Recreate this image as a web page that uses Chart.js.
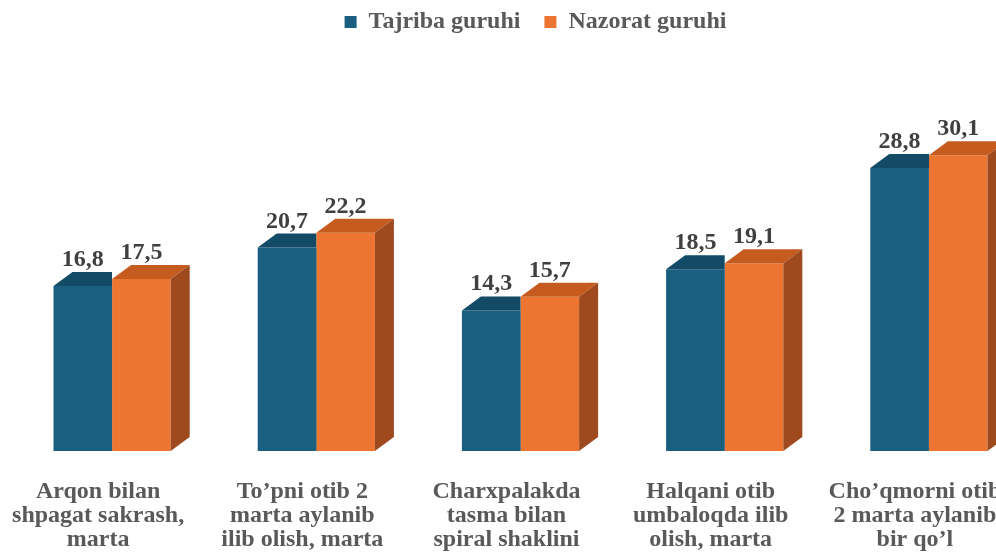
<!DOCTYPE html>
<html><head><meta charset="utf-8">
<script src="https://cdn.jsdelivr.net/npm/chart.js@4/dist/chart.umd.min.js"></script>
<style>html,body{margin:0;padding:0;overflow:hidden;background:#fff;width:996px;height:555px}
#wrap{position:absolute;left:0;top:0;}</style></head>
<body><div id="wrap"><canvas id="c" width="1061" height="600"></canvas></div>
<script>
const categories = [
  ["Arqon bilan", "shpagat sakrash,", "marta"],
  ["To’pni otib 2", "marta aylanib", "ilib olish, marta"],
  ["Charxpalakda", "tasma bilan", "spiral shaklini"],
  ["Halqani otib", "umbaloqda ilib", "olish, marta"],
  ["Cho’qmorni otib", "2 marta aylanib", "bir qo’l"]
];
const seriesNames = ["Tajriba guruhi", "Nazorat guruhi"];
const tajriba = [16.8, 20.7, 14.3, 18.5, 28.8];
const nazorat = [17.5, 22.2, 15.7, 19.1, 30.1];
const yMin = 0, yMax = 35;

const FONT = '"Liberation Serif", "Times New Roman", serif';
const DX = 19, DY = 14;
const frontCols = ['#1a5e80', '#ed7532'];
const topCols = ['#134a66', '#c65b20'];
const sideCols = ['#10405a', '#9e4a1e'];

const legendFit = {
  id: 'legendFit',
  afterInit(chart) {
    const lg = chart.legend; if (!lg) return;
    const f = lg.fit;
    lg.fit = function () { f.call(this); this.height = 121; };
  }
};

const bar3d = {
  id: 'bar3d',
  afterDatasetDraw(chart, args) {
    const ctx = chart.ctx, i = args.index, meta = args.meta;
    meta.data.forEach(el => {
      const p = el.getProps(['x', 'y', 'base', 'width'], true);
      const l = p.x - p.width / 2, r = p.x + p.width / 2, y = p.y, b = p.base;
      ctx.save();
      if (i === 0) { ctx.beginPath(); ctx.rect(0, 0, r, chart.height); ctx.clip(); }
      ctx.fillStyle = topCols[i];
      ctx.beginPath();
      ctx.moveTo(l, y); ctx.lineTo(r, y); ctx.lineTo(r + DX, y - DY); ctx.lineTo(l + DX, y - DY);
      ctx.closePath(); ctx.fill();
      ctx.fillStyle = sideCols[i];
      ctx.beginPath();
      ctx.moveTo(r, y); ctx.lineTo(r + DX, y - DY); ctx.lineTo(r + DX, b - DY); ctx.lineTo(r, b);
      ctx.closePath(); ctx.fill();
      ctx.restore();
    });
  }
};

const valueLabels = {
  id: 'valueLabels',
  afterDatasetsDraw(chart) {
    const ctx = chart.ctx;
    ctx.save();
    ctx.font = 'bold 24px ' + FONT;
    ctx.fillStyle = '#404040';
    ctx.textAlign = 'center';
    ctx.textBaseline = 'alphabetic';
    chart.data.datasets.forEach((ds, di) => {
      chart.getDatasetMeta(di).data.forEach((el, j) => {
        const p = el.getProps(['x', 'y'], true);
        const txt = ds.data[j].toFixed(1).replace('.', ',');
        ctx.fillText(txt, p.x, p.y - DY - 6);
      });
    });
    ctx.restore();
  }
};

new Chart(document.getElementById('c'), {
  type: 'bar',
  data: {
    labels: categories,
    datasets: [
      { label: seriesNames[0], data: tajriba, backgroundColor: frontCols[0], borderWidth: 0 },
      { label: seriesNames[1], data: nazorat, backgroundColor: frontCols[1], borderWidth: 0 }
    ]
  },
  options: {
    responsive: false,
    animation: false,
    devicePixelRatio: 1,
    layout: { padding: { left: 10, right: 0, top: -14, bottom: 0 } },
    datasets: { bar: { barPercentage: 1, categoryPercentage: 0.574 } },
    scales: {
      x: {
        grid: { display: false, drawTicks: false },
        border: { display: false },
        ticks: {
          padding: 29, labelOffset: -14, color: '#595959', maxRotation: 0, minRotation: 0, autoSkip: false,
          font: { family: FONT, size: 24, weight: 'bold', lineHeight: '24px' }
        },
        afterFit(s) { s.height = 149; s.paddingLeft = 0; s.paddingRight = 0; }
      },
      y: {
        position: 'right', min: yMin, max: yMax,
        grid: { display: false, drawTicks: false },
        border: { display: false },
        ticks: { display: false },
        afterFit(s) { s.width = 30; s.paddingTop = 0; s.paddingBottom = 0; }
      }
    },
    plugins: {
      tooltip: { enabled: false },
      legend: {
        position: 'top',
        labels: {
          boxWidth: 12, boxHeight: 12, padding: 24, color: '#595959',
          font: { family: FONT, size: 24, weight: 'bold' }
        }
      }
    }
  },
  plugins: [legendFit, bar3d, valueLabels]
});
</script>
</body></html>
